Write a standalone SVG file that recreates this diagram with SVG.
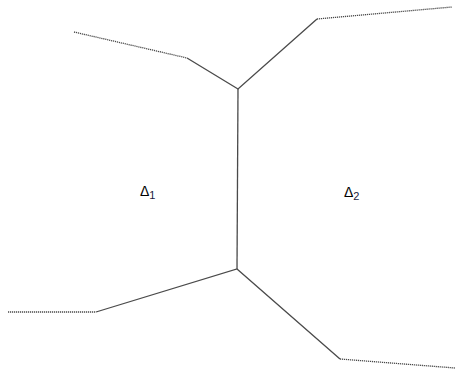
<svg xmlns="http://www.w3.org/2000/svg" width="457" height="371" viewBox="0 0 457 371">
<style>
.s{fill:none;stroke:#4a4a4a;stroke-width:1.3}
.d{fill:none;stroke:#4a4a4a;stroke-width:1.3;stroke-dasharray:1.2 0.8}
.t{font-family:"Liberation Sans",Arial,sans-serif;font-size:14px;fill:#000}
.sub{font-size:11px;fill:#1a1a40}
</style>
<rect width="457" height="371" fill="#fff"/>
<g id="connectors">
<path class="d" d="M74,32 L187,58"/>
<path class="s" d="M187,58 L238,89 L317,19"/>
<path class="d" d="M317,19 L452,7"/>
<path class="s" d="M238,89 L237,269"/>
<path class="s" d="M96,312 L237,269 L340,359"/>
<path class="d" d="M8,312 L96,312"/>
<path class="d" d="M340,359 L455,368"/>
</g>
<g id="label1"><text class="t" x="140" y="196">Δ<tspan class="sub" dy="3">1</tspan></text></g>
<g id="label2"><text class="t" x="344" y="197">Δ<tspan class="sub" dy="3">2</tspan></text></g>
</svg>
